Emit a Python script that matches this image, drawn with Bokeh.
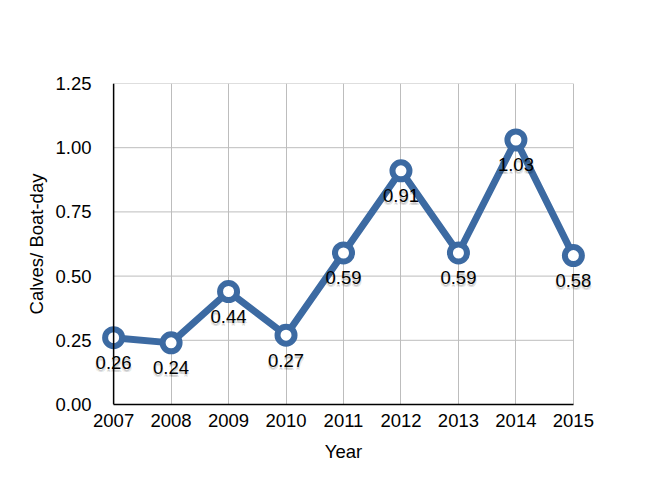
from bokeh.plotting import figure
from bokeh.models import Range1d, FixedTicker, Span, ColumnDataSource
from bokeh.core.properties import value
from bokeh.embed import file_html
from bokeh.resources import INLINE

years = [2007, 2008, 2009, 2010, 2011, 2012, 2013, 2014, 2015]
calves = [0.26, 0.24, 0.44, 0.27, 0.59, 0.91, 0.59, 1.03, 0.58]
point_labels = ["0.26", "0.24", "0.44", "0.27", "0.59", "0.91", "0.59", "1.03", "0.58"]
y_ticks = [0.0, 0.25, 0.5, 0.75, 1.0, 1.25]
y_tick_labels = ["0.00", "0.25", "0.50", "0.75", "1.00", "1.25"]

FONT = "Liberation Sans"
FS = "18.5px"
BLUE = "#3C6AA2"

p = figure(width=640, height=478, output_backend="svg", toolbar_location=None,
           x_range=Range1d(2006.65, 2015.35), y_range=Range1d(0, 1.25),
           min_border_left=93, min_border_right=47, min_border_top=83, min_border_bottom=74)
p.outline_line_color = None
p.background_fill_color = "white"

# grid
p.xgrid.ticker = FixedTicker(ticks=years)
p.xgrid.grid_line_color = "#BDBDBD"
p.xgrid.grid_line_width = 1
p.ygrid.grid_line_color = None
p.segment(x0=[years[0]] * len(y_ticks), x1=[years[-1]] * len(y_ticks), y0=y_ticks, y1=y_ticks,
          line_color="#BDBDBD", line_width=1)

# axes
p.xaxis.ticker = FixedTicker(ticks=years)
p.xaxis.bounds = (years[0], years[-1])
p.xaxis.axis_line_color = "black"
p.xaxis.axis_line_width = 1.5
p.xaxis.major_tick_line_color = None
p.xaxis.minor_tick_line_color = None
p.xaxis.major_tick_out = 0
p.xaxis.major_label_standoff = 9
p.xaxis.major_label_text_font = FONT
p.xaxis.major_label_text_font_size = FS
p.xaxis.major_label_text_color = "black"
p.xaxis.axis_label = "Year"
p.xaxis.axis_label_text_font = FONT
p.xaxis.axis_label_text_font_size = FS
p.xaxis.axis_label_text_font_style = "normal"
p.xaxis.axis_label_text_color = "black"
p.xaxis.axis_label_standoff = 11

p.yaxis.ticker = FixedTicker(ticks=y_ticks)
p.yaxis.major_label_overrides = {t: s for t, s in zip(y_ticks, y_tick_labels)}
p.yaxis.axis_line_color = None
p.yaxis.major_tick_line_color = None
p.yaxis.minor_tick_line_color = None
p.yaxis.major_tick_out = 0
p.yaxis.major_label_standoff = 2
p.yaxis.major_label_text_font = FONT
p.yaxis.major_label_text_font_size = FS
p.yaxis.major_label_text_color = "black"
p.yaxis.axis_label = "Calves/ Boat-day"
p.yaxis.axis_label_text_font = FONT
p.yaxis.axis_label_text_font_size = FS
p.yaxis.axis_label_text_font_style = "normal"
p.yaxis.axis_label_text_color = "black"
p.yaxis.axis_label_standoff = 5

p.add_layout(Span(location=years[0], dimension="height", line_color="black", line_width=1.5))

src = ColumnDataSource(dict(x=years, y=calves, lab=point_labels))

p.line("x", "y", source=src, line_color=BLUE, line_width=7, line_join="round")
p.scatter("x", "y", source=src, size=17, line_width=6, line_color=BLUE, fill_color="white")

# label shadows
for dx, dy, a in [(0, 2, 0.15), (1, 3, 0.10), (-1, 3, 0.08)]:
    p.text("x", "y", text="lab", source=src, x_offset=dx, y_offset=25 + dy,
           text_align="center", text_baseline="middle", text_font=value(FONT),
           text_font_size=FS, text_color="black", text_alpha=a)
p.text("x", "y", text="lab", source=src, y_offset=25,
       text_align="center", text_baseline="middle", text_font=value(FONT),
       text_font_size=FS, text_color="black")

open("out.html", "w").write(file_html(p, INLINE))
